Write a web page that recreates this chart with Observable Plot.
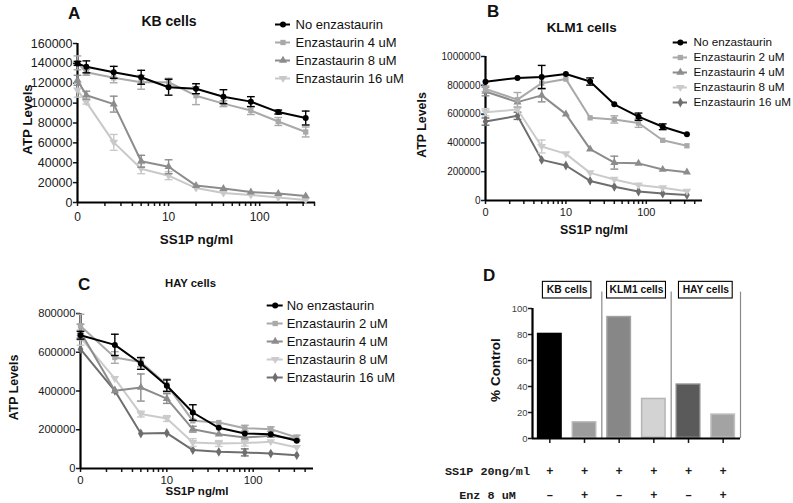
<!DOCTYPE html>
<html><head><meta charset="utf-8">
<script src="https://cdn.jsdelivr.net/npm/d3@7"></script>
<script src="https://cdn.jsdelivr.net/npm/@observablehq/plot@0.6"></script>
<style>
body{margin:0;background:#fff;}
#root{position:relative;width:793px;height:503px;overflow:hidden;background:#fff;font-family:"Liberation Sans",Arial,Helvetica,sans-serif;}
#root svg{position:absolute;overflow:visible !important;background:transparent !important;max-width:none !important;}
</style></head><body><div id="root"></div>
<script>
// ================= DATA =================
// SS1P doses (ng/ml); dose 0 is drawn at the left end of the log axis (labelled "0")
const dosesA = [0, 1.25, 2.5, 5, 10, 20, 40, 80, 160, 320];
const dosesBC = [0, 2.5, 5, 10, 20, 40, 80, 160, 320];

// Panel A - KB cells
const seriesA = ["No enzastaurin", "Enzastaurin 4 uM", "Enzastaurin 8 uM", "Enzastaurin 16 uM"];
const kbNo    = [140000, 136500, 131000, 126000, 116000, 114500, 106500, 101500, 91000, 85000];
const kbNoErr = [2000, 6000, 6000, 7000, 8000, 5000, 7000, 5000, 2000, 7000];
const kb4     = [140500, 131000, 125500, 121000, 121000, 107500, 99500, 92500, 81500, 71000];
const kb4Err  = [7000, 3000, 5000, 7000, 4000, 9000, 3000, 4000, 4000, 5000];
const kb8     = [123000, 108000, 99000, 41500, 36000, 17000, 14000, 10500, 9000, 6500];
const kb8Err  = [5000, 4000, 8000, 6000, 7000, 0, 0, 0, 0, 0];
const kb16    = [113000, 101000, 60500, 34000, 27000, 14500, 9500, 7500, 5000, 2500];
const kb16Err = [7000, 2000, 8000, 5000, 4000, 0, 0, 0, 0, 0];

// Panel B - KLM1 cells
const seriesBC = ["No enzastaurin", "Enzastaurin 2 uM", "Enzastaurin 4 uM", "Enzastaurin 8 uM", "Enzastaurin 16 uM"];
const klmNo    = [824000, 851000, 858000, 879000, 826000, 668000, 582000, 512000, 460000];
const klmNoErr = [0, 0, 80000, 0, 25000, 0, 25000, 20000, 0];
const klm2     = [775000, 700000, 815000, 843000, 574000, 563000, 538000, 418000, 380000];
const klm2Err  = [20000, 50000, 0, 0, 0, 25000, 30000, 0, 0];
const klm4     = [757000, 683000, 730000, 600000, 357000, 263000, 258000, 215000, 197000];
const klm4Err  = [30000, 0, 45000, 0, 0, 45000, 0, 0, 0];
const klm8     = [613000, 632000, 375000, 324000, 192000, 146000, 107000, 88000, 64000];
const klm8Err  = [25000, 0, 45000, 0, 0, 0, 0, 0, 0];
const klm16    = [548000, 588000, 282000, 243000, 136000, 95000, 63000, 48000, 38000];
const klm16Err = [25000, 25000, 0, 0, 0, 0, 0, 0, 0];

// Panel C - HAY cells
const hayNo    = [688000, 638000, 542000, 427000, 289000, 210000, 181000, 177000, 143000];
const hayNoErr = [20000, 55000, 30000, 30000, 40000, 0, 0, 0, 0];
const hay2     = [736000, 573000, 550000, 432000, 246000, 237000, 208000, 203000, 160000];
const hay2Err  = [60000, 30000, 25000, 30000, 0, 0, 15000, 12000, 12000];
const hay4     = [705000, 401000, 418000, 361000, 203000, 177000, 160000, 169000, 152000];
const hay4Err  = [40000, 0, 70000, 25000, 15000, 0, 0, 0, 0];
const hay8     = [676000, 464000, 281000, 258000, 134000, 129000, 131000, 138000, 108000];
const hay8Err  = [40000, 0, 15000, 15000, 20000, 15000, 15000, 0, 0];
const hay16    = [616000, 401000, 181000, 183000, 95000, 86000, 83000, 77000, 69000];
const hay16Err = [0, 0, 0, 0, 0, 0, 18000, 0, 0];

// Panel D - % control at SS1P 20 ng/ml
const cellGroups = ["KB cells", "KLM1 cells", "HAY cells"];
const barValues = [81, 13, 94, 31, 42, 19];
const rowLabels = ["SS1P 20ng/ml", "Enz 8 uM"];
const ss1pRow = ["+", "+", "+", "+", "+", "+"];
const enzRow  = ["\u2013", "+", "\u2013", "+", "\u2013", "+"];

// tick values
const yTicksA = [0, 20000, 40000, 60000, 80000, 100000, 120000, 140000, 160000];
const yTicksB = [0, 200000, 400000, 600000, 800000, 1000000];
const yTicksC = [0, 200000, 400000, 600000, 800000];
const yTicksD = [0, 20, 40, 60, 80, 100];
const xMajor = [1, 10, 100];
const xMinor = [2, 3, 4, 5, 6, 7, 8, 9, 20, 30, 40, 50, 60, 70, 80, 90, 200, 300, 400];

// ================= STYLES =================
const FONT = "'Liberation Sans', Arial, Helvetica, sans-serif";
const MONO = "'Liberation Mono', 'Courier New', monospace";
const colorsA = ["#000000", "#a9a9a9", "#8c8c8c", "#c8c8c8"];
const colorsBC = ["#000000", "#a9a9a9", "#8c8c8c", "#cbcbcb", "#6e6e6e"];
const triDown = {draw(ctx, size) { const h = Math.sqrt(size / Math.PI) * 1.45; ctx.moveTo(-h, -h * 0.6); ctx.lineTo(h, -h * 0.6); ctx.lineTo(0, h * 1.0); ctx.closePath(); }};
const capSym = {draw(ctx, size) { const w = Math.sqrt(size / Math.PI) * 1.5; ctx.moveTo(-w, 0); ctx.lineTo(w, 0); }};
const symbolsA = ["circle", "square", "triangle", triDown];
const symbolsBC = ["circle", "square", "triangle", triDown, "diamond"];
const barFills = ["#000000", "#9c9c9c", "#878787", "#d3d3d3", "#5a5a5a", "#a3a3a3"];
const barStrokes = ["#000000", "#b8b8b8", "#a2a2a2", "#b5b5b5", "#858585", "#c0c0c0"];

const root = document.getElementById("root");
function place(el, left, top) { el.style.left = left + "px"; el.style.top = top + "px"; root.appendChild(el); }
const xPos = d => d === 0 ? 1 : d;
const fmt0 = d => d === 1 ? "0" : String(d);

function yTitle(text, dx, size) {
  return Plot.text([text], {frameAnchor: "left", rotate: -90, dx, dy: -3.5, textAnchor: "middle", lineAnchor: "middle",
    fontWeight: "bold", fontSize: size, fill: "#111"});
}

function linePanel(o) {
  const rows = [];
  o.names.forEach((name, s) => o.values[s].forEach((v, i) =>
    rows.push({s, name, x: xPos(o.doses[i]), y: v, e: o.errors[s][i]})));
  const marks = [];
  for (let s = o.names.length - 1; s >= 0; s--) {
    const c = o.colors[s];
    const sr = rows.filter(d => d.s === s);
    const er = sr.filter(d => d.e > 0);
    marks.push(Plot.ruleX(er, {x: "x", y1: d => d.y - d.e, y2: d => d.y + d.e, stroke: c, strokeWidth: 1.4}));
    marks.push(Plot.dot(er, {x: "x", y: d => d.y + d.e, symbol: capSym, r: 2.6, stroke: c, strokeWidth: 1.4, fill: "none"}));
    marks.push(Plot.dot(er, {x: "x", y: d => d.y - d.e, symbol: capSym, r: 2.6, stroke: c, strokeWidth: 1.4, fill: "none"}));
    marks.push(Plot.line(sr, {x: "x", y: "y", stroke: c, strokeWidth: 2}));
    marks.push(Plot.dot(sr, {x: "x", y: "y", symbol: o.symbols[s], r: 3, fill: c, stroke: "none"}));
  }
  const chart = Plot.plot({
    width: o.width, height: o.height,
    marginLeft: o.m[0], marginRight: o.m[1], marginTop: o.m[2], marginBottom: o.m[3],
    style: {fontFamily: FONT, color: "#1a1a1a", background: "transparent", overflow: "visible"},
    x: {type: "log", domain: o.xDomain},
    y: {domain: o.yDomain},
    marks: [
      Plot.axisY(o.yTicks, {tickSize: 4, tickPadding: 1, fontSize: o.yFont, strokeWidth: 1.5, label: null, tickFormat: d => String(d)}),
      Plot.axisX(xMajor, {tickSize: 4, tickPadding: o.xPad, fontSize: o.xFont, strokeWidth: 1.5, label: null, tickFormat: fmt0}),
      Plot.axisX(xMinor.filter(v => v <= o.xDomain[1]), {tickSize: 4, strokeWidth: 1.5, label: null, tickFormat: () => ""}),
      Plot.ruleX([o.xDomain[0]], {strokeWidth: 2.2, stroke: "#000"}),
      Plot.ruleY([0], {strokeWidth: 2.2, stroke: "#000"}),
      Plot.text(["SS1P ng/ml"], {frameAnchor: "bottom", dy: o.xLabelDy, textAnchor: "middle", lineAnchor: "middle", fontWeight: "bold", fontSize: o.xLabelSize, fill: "#111"}),
      yTitle("ATP Levels", o.yLabelDx, o.yLabelSize),
      ...marks
    ]
  });
  place(chart, o.left, o.top);
}

function legendPlot(o) {
  const chart = Plot.plot({
    width: o.width, height: o.height,
    marginLeft: o.ml, marginRight: o.width - o.ml - o.sw, marginTop: o.mt, marginBottom: o.height - o.mt - o.span,
    style: {fontFamily: FONT, color: "#111", background: "transparent", overflow: "visible"},
    x: {domain: [0, 1], axis: null},
    y: {type: "point", domain: o.names, padding: 0, axis: null},
    marks: [
      ...o.names.map((n, s) => Plot.ruleY([n], {x1: 0, x2: 1, y: d => d, stroke: o.colors[s], strokeWidth: 2})),
      ...o.names.map((n, s) => Plot.dot([n], {x: 0.5, y: d => d, symbol: o.symbols[s], r: 3, fill: o.colors[s]})),
      Plot.text(o.names, {x: 1, y: d => d, dx: o.gap, textAnchor: "start", fontSize: o.font, fill: "#111"})
    ]
  });
  place(chart, o.left, o.top);
}

// Panel A
linePanel({left: 0, top: 0, width: 400, height: 250, m: [77, 85, 43, 48], xDomain: [1, 410], yDomain: [0, 160000],
  yTicks: yTicksA, yFont: 12.5, xFont: 12, xPad: 5.5, xLabelDy: 37, xLabelSize: 13.4, yLabelDx: -50, yLabelSize: 13.3,
  doses: dosesA, names: seriesA, values: [kbNo, kb4, kb8, kb16], errors: [kbNoErr, kb4Err, kb8Err, kb16Err],
  colors: colorsA, symbols: symbolsA});
legendPlot({left: 270, top: 10, width: 130, height: 80, ml: 5, sw: 15, mt: 13.3, span: 54.9, gap: 5, font: 13,
  names: seriesA, colors: colorsA, symbols: symbolsA});

// Panel B
linePanel({left: 400, top: 0, width: 393, height: 250, m: [85, 91, 56, 50], xDomain: [1, 500], yDomain: [0, 1000000],
  yTicks: yTicksB, yFont: 10, xFont: 11, xPad: 4, xLabelDy: 30, xLabelSize: 12.4, yLabelDx: -63, yLabelSize: 12.4,
  doses: dosesBC, names: seriesBC, values: [klmNo, klm2, klm4, klm8, klm16], errors: [klmNoErr, klm2Err, klm4Err, klm8Err, klm16Err],
  colors: colorsBC, symbols: symbolsBC});
legendPlot({left: 668, top: 30, width: 125, height: 80, ml: 4.7, sw: 14.3, mt: 11.5, span: 60, gap: 6, font: 11.7,
  names: seriesBC, colors: colorsBC, symbols: symbolsBC});

// Panel C
linePanel({left: 0, top: 245, width: 400, height: 258, m: [80, 87, 68, 35], xDomain: [1, 500], yDomain: [0, 800000],
  yTicks: yTicksC, yFont: 11.2, xFont: 11.4, xPad: 3.3, xLabelDy: 23, xLabelSize: 11.5, yLabelDx: -66, yLabelSize: 12.4,
  doses: dosesBC, names: seriesBC, values: [hayNo, hay2, hay4, hay8, hay16], errors: [hayNoErr, hay2Err, hay4Err, hay8Err, hay16Err],
  colors: colorsBC, symbols: symbolsBC});
legendPlot({left: 262, top: 295, width: 138, height: 90, ml: 4.7, sw: 16, mt: 9.3, span: 72.4, gap: 3.5, font: 13,
  names: seriesBC, colors: colorsBC, symbols: symbolsBC});

// Panel D - bar chart
{
  const bars = barValues.map((v, i) => ({i, v}));
  const groups = cellGroups.map((g, k) => ({name: g, c: 2 * k + 1, hw: 0.075 * g.length + 0.1}));
  const boxLow = 107.7, boxHigh = 120.5;   // label boxes sit just above the 100 % line
  const chart = Plot.plot({
    width: 393, height: 215, marginLeft: 132, marginRight: 53, marginTop: 68, marginBottom: 17,
    style: {fontFamily: FONT, color: "#1a1a1a", background: "transparent", overflow: "visible"},
    x: {domain: [0, 6]},
    y: {domain: [0, 100]},
    marks: [
      Plot.ruleX(groups.map(g => g.c + 1), {y1: 0, y2: (boxLow + boxHigh) / 2 - 1.5, stroke: "#8a8a8a", strokeWidth: 1.2}),
      Plot.rect(bars, {x1: d => d.i + 0.14, x2: d => d.i + 0.86, y1: 0, y2: "v", fill: d => barFills[d.i], stroke: d => barStrokes[d.i], strokeWidth: 1.5, inset: 0.75}),
      Plot.axisY(yTicksD, {tickSize: 4, tickPadding: 1, fontSize: 9.5, strokeWidth: 1.5, label: null, fill: "#444"}),
      Plot.axisX(bars.map(d => d.i + 0.5), {tickSize: 5, strokeWidth: 1.5, label: null, tickFormat: () => ""}),
      Plot.ruleX([0], {strokeWidth: 2.2, stroke: "#000"}),
      Plot.ruleY([0], {strokeWidth: 2.2, stroke: "#000"}),
      Plot.rect(groups, {x1: g => g.c - g.hw, x2: g => g.c + g.hw, y1: boxLow, y2: boxHigh, fill: "white", stroke: "#000", strokeWidth: 1.1}),
      Plot.text(groups, {x: "c", y: (boxLow + boxHigh) / 2, text: "name", fontWeight: "bold", fontSize: 10.3, fill: "#111"}),
      yTitle("% Control", -37, 13.5)
    ]
  });
  place(chart, 400, 240);

  const cells = [];
  barValues.forEach((v, i) => { cells.push({i, row: rowLabels[0], t: ss1pRow[i]}); cells.push({i, row: rowLabels[1], t: enzRow[i]}); });
  const table = Plot.plot({
    width: 393, height: 48, marginLeft: 132, marginRight: 53, marginTop: 16, marginBottom: 8,
    style: {fontFamily: MONO, color: "#1a1a1a", background: "transparent", overflow: "visible"},
    x: {domain: [0, 6], axis: null},
    y: {type: "point", domain: rowLabels, padding: 0, axis: null},
    marks: [
      Plot.text(rowLabels, {y: d => d, frameAnchor: "left", dx: -45, textAnchor: "middle", fontFamily: MONO, fontWeight: "bold", fontSize: 11.8, fill: "#1a1a1a"}),
      Plot.text(cells, {x: d => d.i + 0.5, y: "row", text: "t", fontFamily: MONO, fontWeight: "bold", fontSize: 12, fill: "#1a1a1a"})
    ]
  });
  place(table, 400, 455);
}

// Panel letters and titles
const labels = [
  {t: "A", x: 68, y: 19, s: 17, a: "start"}, {t: "KB cells", x: 169, y: 26, s: 14, a: "middle"},
  {t: "B", x: 487, y: 16.7, s: 17, a: "start"}, {t: "KLM1 cells", x: 581.7, y: 31.7, s: 13.4, a: "middle"},
  {t: "C", x: 78, y: 290, s: 17, a: "start"}, {t: "HAY cells", x: 190.5, y: 287, s: 11.3, a: "middle"},
  {t: "D", x: 483, y: 280.7, s: 17, a: "start"}
];
const ov = d3.select(root).append("svg").attr("width", 793).attr("height", 503).style("left", "0px").style("top", "0px").style("pointer-events", "none");
ov.selectAll("text").data(labels).join("text")
  .attr("x", d => d.x).attr("y", d => d.y).attr("font-size", d => d.s).attr("text-anchor", d => d.a)
  .attr("font-family", FONT).attr("font-weight", "bold").attr("fill", "#111").text(d => d.t);
</script>
</body></html>
